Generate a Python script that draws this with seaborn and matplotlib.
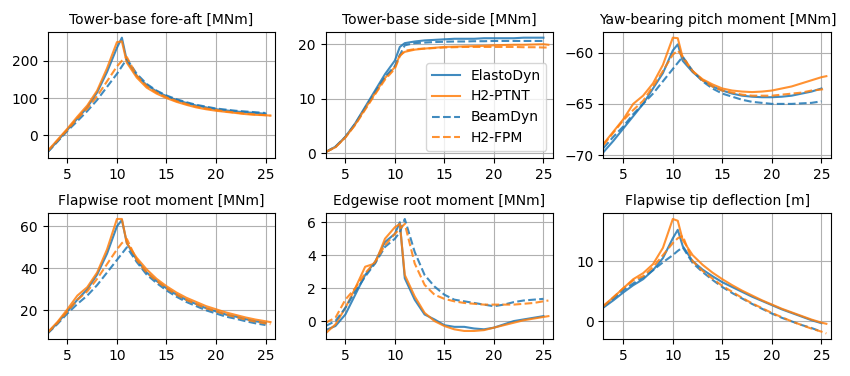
import numpy as np
import pandas as pd
import matplotlib
matplotlib.use('Agg')
import matplotlib.pyplot as plt
import seaborn as sns

# wind speeds [m/s]
ws_of = [3, 4, 5, 6, 7, 8, 9, 10, 10.5, 11, 12, 13, 14, 15, 16, 17, 18, 19, 20, 21, 22, 23, 24, 25]
ws_h2 = ws_of + [25.5]

titles = ['Tower-base fore-aft [MNm]', 'Tower-base side-side [MNm]', 'Yaw-bearing pitch moment [MNm]',
          'Flapwise root moment [MNm]', 'Edgewise root moment [MNm]', 'Flapwise tip deflection [m]']

# tower-base fore-aft
tbfa_ed = [-45, -15, 15, 45, 75, 115, 170, 235, 262, 200, 160, 135, 118, 105, 95, 87, 80, 75, 70, 67, 64, 62, 60, 58]
tbfa_ptnt = [-42, -12, 18, 50, 80, 120, 180, 250, 252, 195, 155, 128, 112, 100, 90, 82, 75, 70, 66, 63, 60, 57, 55, 54, 53]
tbfa_bd = [-45, -17, 12, 38, 65, 95, 130, 165, 185, 205, 165, 138, 120, 107, 97, 89, 82, 77, 72, 69, 66, 64, 62, 60]
tbfa_fpm = [-43, -14, 15, 45, 72, 105, 145, 185, 200, 210, 160, 132, 115, 102, 92, 84, 77, 72, 68, 64, 61, 58, 56, 54, 53]

# tower-base side-side
tbss_ed = [0.2, 1.2, 3.0, 5.5, 8.5, 11.5, 14.5, 17.0, 19.5, 20.2, 20.5, 20.7, 20.8, 20.9, 21.0, 21.0, 21.0, 21.1, 21.1, 21.1, 21.1, 21.2, 21.2, 21.2]
tbss_ptnt = [0.2, 1.1, 2.9, 5.3, 8.2, 11.0, 13.8, 15.8, 18.0, 18.6, 19.0, 19.2, 19.35, 19.5, 19.55, 19.6, 19.65, 19.7, 19.8, 19.85, 19.9, 19.9, 19.95, 20.0, 19.9]
tbss_bd = [0.2, 1.2, 3.0, 5.4, 8.3, 11.2, 14.0, 16.0, 18.0, 19.8, 20.2, 20.3, 20.4, 20.45, 20.5, 20.5, 20.55, 20.55, 20.6, 20.6, 20.6, 20.6, 20.6, 20.6]
tbss_fpm = [0.2, 1.1, 2.9, 5.2, 8.0, 10.8, 13.5, 15.5, 17.8, 18.8, 19.1, 19.2, 19.3, 19.4, 19.45, 19.5, 19.5, 19.5, 19.5, 19.5, 19.5, 19.45, 19.45, 19.4, 19.4]

# yaw-bearing pitch moment
ybp_ed = [-69.7, -68.6, -67.4, -66.2, -65.0, -63.5, -62.0, -59.8, -59.2, -60.8, -61.9, -62.7, -63.3, -63.7, -64.0, -64.2, -64.3, -64.35, -64.35, -64.3, -64.2, -64.0, -63.8, -63.5]
ybp_ptnt = [-68.9, -67.7, -66.5, -65.0, -64.2, -63.0, -61.2, -58.55, -58.6, -60.5, -61.8, -62.6, -63.1, -63.5, -63.7, -63.8, -63.85, -63.8, -63.7, -63.5, -63.3, -63.0, -62.7, -62.4, -62.3]
ybp_bd = [-69.3, -68.2, -67.2, -66.0, -65.0, -64.0, -62.8, -61.6, -61.0, -60.4, -61.8, -62.8, -63.5, -64.0, -64.3, -64.6, -64.8, -64.9, -65.0, -65.0, -65.0, -64.95, -64.9, -64.75]
ybp_fpm = [-69.0, -67.8, -66.6, -65.6, -64.7, -63.3, -61.8, -60.2, -59.8, -60.4, -61.8, -62.7, -63.3, -63.7, -63.9, -64.1, -64.2, -64.2, -64.2, -64.1, -64.0, -63.9, -63.7, -63.6, -63.5]

# flapwise root moment
flap_ed = [9, 14, 19.5, 25, 30, 37, 47, 60, 63, 52, 44, 38, 34, 30.5, 27.5, 25, 23, 21, 19.5, 18, 17, 15.8, 14.8, 14]
flap_ptnt = [9.5, 14.5, 20.5, 27, 31, 38, 49, 63.5, 63.5, 52, 45, 39.5, 35, 31.5, 28.5, 26, 24, 22, 20.5, 19, 17.8, 16.6, 15.6, 14.8, 14.4]
flap_bd = [9, 13.5, 18.5, 23, 27, 32, 38, 44, 47, 50, 43, 37, 33, 29.5, 26.5, 24, 22, 20, 18.5, 17, 16, 14.8, 13.8, 13]
flap_fpm = [9.3, 14, 19.5, 25, 29, 35, 42, 49, 52, 54, 44, 38, 34, 30.5, 27.5, 25, 23, 21, 19.5, 18, 16.8, 15.6, 14.6, 13.8, 13.4]

# edgewise root moment
edge_ed = [-0.55, -0.3, 0.4, 1.6, 2.8, 3.6, 4.8, 5.3, 6.0, 2.6, 1.3, 0.4, 0.1, -0.25, -0.35, -0.35, -0.45, -0.5, -0.4, -0.2, 0.0, 0.1, 0.2, 0.3]
edge_ptnt = [-0.75, -0.2, 0.8, 2.0, 3.3, 3.5, 5.0, 5.7, 5.9, 2.8, 1.5, 0.5, 0.0, -0.3, -0.5, -0.6, -0.6, -0.55, -0.4, -0.25, -0.1, 0.05, 0.15, 0.25, 0.3]
edge_bd = [-0.3, 0.0, 0.8, 1.8, 2.7, 3.5, 4.5, 5.0, 5.4, 6.2, 4.2, 2.8, 2.1, 1.6, 1.3, 1.2, 1.1, 1.0, 0.9, 1.0, 1.15, 1.25, 1.3, 1.35]
edge_fpm = [-0.1, 0.2, 1.3, 2.0, 2.9, 3.6, 4.6, 5.3, 5.6, 5.9, 3.5, 2.2, 1.6, 1.35, 1.2, 1.1, 1.05, 1.0, 1.0, 1.0, 1.0, 1.05, 1.1, 1.2, 1.25]

# flapwise tip deflection
tip_ed = [2.3, 3.5, 4.8, 6.0, 7.0, 8.5, 10.5, 13.8, 15.2, 12.5, 10.0, 8.6, 7.5, 6.5, 5.7, 4.9, 4.1, 3.4, 2.7, 2.0, 1.4, 0.8, 0.2, -0.3]
tip_ptnt = [2.6, 4.0, 5.5, 7.0, 8.0, 9.5, 12.2, 17.0, 16.7, 13.5, 11.0, 9.4, 8.1, 7.0, 6.0, 5.1, 4.3, 3.5, 2.8, 2.1, 1.5, 0.9, 0.3, -0.2, -0.4]
tip_bd = [2.4, 3.8, 5.2, 6.3, 7.3, 8.5, 9.8, 11.0, 11.7, 12.3, 9.7, 8.2, 6.9, 5.7, 4.7, 3.8, 2.9, 2.1, 1.3, 0.6, 0.0, -0.6, -1.1, -1.7]
tip_fpm = [2.5, 4.0, 5.5, 6.8, 7.5, 9.0, 11.0, 13.0, 13.8, 14.2, 10.0, 8.4, 7.1, 5.9, 4.9, 3.9, 3.0, 2.2, 1.4, 0.7, 0.0, -0.6, -1.2, -1.7, -2.0]

channels = [
    (tbfa_ed, tbfa_ptnt, tbfa_bd, tbfa_fpm),
    (tbss_ed, tbss_ptnt, tbss_bd, tbss_fpm),
    (ybp_ed, ybp_ptnt, ybp_bd, ybp_fpm),
    (flap_ed, flap_ptnt, flap_bd, flap_fpm),
    (edge_ed, edge_ptnt, edge_bd, edge_fpm),
    (tip_ed, tip_ptnt, tip_bd, tip_fpm),
]

plt.rcParams['font.family'] = ['DejaVu Sans']

fig, axs = plt.subplots(2, 3, figsize=(8.5, 3.76), dpi=100)
fig.subplots_adjust(left=0.056, right=0.978, top=0.915, bottom=0.098, wspace=0.22, hspace=0.44)

for ax, title, (ed, ptnt, bd, fpm) in zip(axs.flat, titles, channels):
    # solid = OpenFAST/HAWC2 structural models, dashed = beam models
    sns.lineplot(x=ws_of, y=ed, ax=ax, color='C0', linestyle='-', alpha=0.85, label='ElastoDyn')
    sns.lineplot(x=ws_h2, y=ptnt, ax=ax, color='C1', linestyle='-', alpha=0.85, label='H2-PTNT')
    sns.lineplot(x=ws_of, y=bd, ax=ax, color='C0', linestyle='--', alpha=0.85, label='BeamDyn')
    sns.lineplot(x=ws_h2, y=fpm, ax=ax, color='C1', linestyle='--', alpha=0.85, label='H2-FPM')
    ax.set_title(title, fontsize=10)
    ax.set_xlim(3, 26)
    ax.set_xticks([5, 10, 15, 20, 25])
    ax.grid(True)
    if ax is axs[0, 1]:
        ax.legend(loc='lower right', fontsize=10)
    else:
        ax.get_legend().remove()

plt.savefig('out.png', dpi=100)
